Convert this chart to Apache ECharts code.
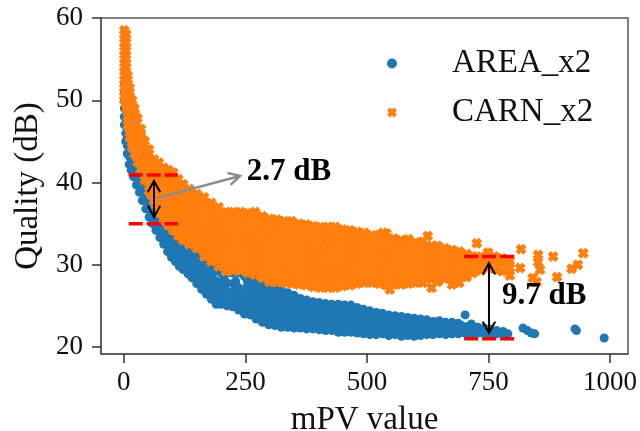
<!DOCTYPE html>
<html>
<head>
<meta charset="utf-8">
<script src="https://cdn.jsdelivr.net/npm/echarts@6/dist/echarts.min.js"></script>
<style>
  html, body { margin: 0; padding: 0; background: #fff; }
  #chart { width: 640px; height: 431px; }
</style>
</head>
<body>
<div id="chart"></div>
<script>
// values: each row is [mPV, quality values at that mPV...]
const areaColumns = [
  [1, 47, 48, 49, 50, 51, 52], [4, 45, 46, 47, 48], [7, 43.5, 44.5, 45.5, 47], [11, 42.2, 43.2, 44.2],
  [15, 41.5, 42.5, 43.5], [20, 40.7, 41.8, 43], [26, 39.7, 40.7, 41.8], [32, 38.8, 39.8, 40.8],
  [38, 37.8, 38.8, 39.8], [45, 36.8, 37.8, 38.8], [52, 35.8, 36.8, 37.8], [59, 35, 36, 37],
  [66, 34.2, 35.2, 36.2], [74, 33.3, 34.3, 35.3], [82, 32.5, 33.5, 34.5], [90, 31.6, 32.6, 33.6, 34.6],
  [98, 30.9, 31.9, 32.9, 33.9], [106, 30.4, 31.4, 32.4, 33.4], [114, 29.8, 30.8, 31.8, 32.8],
  [122, 29.4, 30.4, 31.4, 32.4], [132, 28.9, 29.8, 30.7, 31.6, 32.2], [140, 28.4, 29.3, 30.2, 31, 31.8],
  [150, 27.7, 28.6, 29.5, 30.4, 31.5], [160, 27, 27.9, 28.8, 29.9, 31], [170, 26.4, 27.3, 28.2, 29.2, 30.6],
  [180, 25.8, 26.7, 27.6, 28.6, 30], [190, 25.2, 26.1, 27, 28, 29.6], [200, 25.2, 26, 26.9, 27.9, 29],
  [212, 25, 25.9, 26.8, 27.8, 29], [224, 24.9, 25.8, 26.7, 27.7, 29], [236, 24.5, 25.4, 26.3, 27.2, 29],
  [248, 24, 25, 26, 27, 28.6], [260, 23.9, 24.8, 25.7, 26.6, 27.5, 28.4], [272, 23.4, 24.3, 25.2, 26.1, 27, 27.9],
  [285, 23, 23.9, 24.8, 25.7, 26.6, 27.6], [298, 22.7, 23.6, 24.5, 25.4, 26.3, 27.3],
  [311, 22.6, 23.5, 24.4, 25.3, 26.2, 27.1], [324, 22.4, 23.3, 24.2, 25.1, 26, 26.9],
  [337, 22.4, 23.3, 24.2, 25.1, 25.9, 26.6], [350, 22.3, 23.2, 24.1, 25, 26.3], [363, 22.3, 23.1, 24, 24.9, 25.9],
  [376, 22.2, 23, 23.9, 24.8, 25.7], [389, 22.2, 23, 23.8, 24.6, 25.5], [402, 22.1, 22.9, 23.7, 24.5, 25.4],
  [415, 22, 22.8, 23.6, 24.4, 25.3], [428, 22, 22.8, 23.6, 24.4, 25.2], [441, 21.8, 22.6, 23.4, 24.2, 25.2],
  [454, 21.8, 22.6, 23.4, 24.2, 25.1], [467, 21.8, 22.6, 23.4, 24.2, 25.1], [480, 21.7, 22.5, 23.3, 24.1, 24.8],
  [493, 21.6, 22.4, 23.2, 24, 24.6], [506, 21.5, 22.3, 23.1, 23.9, 24.4], [519, 21.5, 22.3, 23.1, 24.2],
  [532, 21.6, 22.4, 23.2, 24.1], [545, 21.4, 22.2, 23, 23.9], [558, 21.5, 22.3, 23.1, 23.8],
  [571, 21.3, 22.1, 22.9, 23.7], [584, 21.4, 22.2, 23, 23.6], [597, 21.3, 22.1, 22.9, 23.5],
  [610, 21.4, 22.2, 23, 23.4], [623, 21.5, 22.3, 23.3], [636, 21.5, 22.3, 23.1], [649, 21.6, 22.4, 23.2],
  [662, 21.5, 22.3, 23], [675, 21.6, 22.4, 23], [688, 21.6, 22.3, 22.9], [702, 21.7, 22.4, 23.9],
  [715, 21.6, 22.3, 22.8], [728, 21.7, 22.4], [741, 21.6, 22.3], [754, 21.6, 22.2], [767, 21.6, 22],
  [780, 21.6, 21.9], [790, 21.6], [821, 22.3], [830, 22], [838, 21.7], [845, 21.6], [928, 22.2], [931, 22], [988, 21.1]
]
// points lying between the rows above, inside the blue band
const areaInner = [
  [145, 29, 29.9, 30.8], [165, 27.5, 28.4, 29.4, 30.3], [185, 26.4, 27.3, 28.2, 29.1], [206, 25.6, 26.5, 27.4, 28.3],
  [230, 25.3, 26.2, 27.1, 28], [254, 24.7, 25.6, 26.5, 27.4, 28], [266, 24.3, 25.2, 26.1, 27, 27.9],
  [279, 23.8, 24.7, 25.6, 26.5, 27.4], [292, 23.4, 24.3, 25.2, 26.1, 27], [305, 23.1, 24, 24.9, 25.8, 26.7],
  [318, 23, 23.9, 24.8, 25.7, 26.6], [331, 22.9, 23.8, 24.7, 25.5, 26.4], [344, 22.8, 23.7, 24.6, 25.5, 26.2],
  [357, 22.7, 23.6, 24.5, 25.4], [370, 22.6, 23.5, 24.4, 25.3], [383, 22.6, 23.4, 24.2, 25], [396, 22.5, 23.3, 24.1, 24.9],
  [409, 22.4, 23.2, 24, 24.8], [422, 22.4, 23.2, 24, 24.8], [435, 22.2, 23, 23.8, 24.6], [448, 22.2, 23, 23.8, 24.6],
  [461, 22.2, 23, 23.8, 24.6], [474, 22.1, 22.9, 23.7, 24.5], [487, 22, 22.8, 23.6, 24.3], [500, 21.9, 22.7, 23.5, 24.2],
  [513, 21.9, 22.7, 23.5], [526, 22, 22.8, 23.6], [539, 21.8, 22.6, 23.4], [552, 21.9, 22.7, 23.4], [565, 21.7, 22.5, 23.3],
  [578, 21.8, 22.6, 23.3], [591, 21.7, 22.5, 23.2], [604, 21.8, 22.6, 23.2], [617, 21.9, 22.7], [630, 21.9, 22.7],
  [643, 22, 22.8], [656, 21.9, 22.6], [669, 22, 22.7], [682, 22, 22.6], [695, 22, 22.6], [708, 22, 22.5]
]
const carnColumns = [
  [1, 50, 51, 52, 53, 54, 55, 56, 57, 58, 58.5], [5, 49, 50, 51, 52, 53, 54, 55, 56, 57, 58],
  [8, 47, 48, 49, 50, 51, 52, 53], [12, 45.5, 46.5, 47.5, 48.5, 49.5, 50.5, 51.5], [17, 44.3, 45.3, 46.3, 47.3, 48.3, 49.2, 50],
  [22, 43.5, 44.5, 45.5, 46.5, 47.5, 48.3, 49], [28, 42.5, 43.5, 44.5, 45.5, 46.5, 47.8], [35, 41.7, 42.7, 43.7, 44.7, 45.7, 46.5],
  [43, 40.3, 41.3, 42.3, 43.3, 44.2, 45], [52, 39, 40, 41, 42, 43, 44], [62, 37.8, 38.8, 39.8, 40.8, 41.8, 42.8],
  [72, 36.5, 37.5, 38.5, 39.5, 40.5, 41.5, 42.4], [82, 35.6, 36.6, 37.6, 38.6, 39.6, 40.7, 41.8],
  [92, 34.8, 35.8, 36.8, 37.8, 38.8, 39.8, 40.7, 41.5], [102, 34.2, 35.2, 36.2, 37.2, 38.2, 39.2, 40.2, 41.2],
  [112, 33.5, 34.5, 35.5, 36.5, 37.5, 38.5, 39.5, 40.4], [122, 33, 34, 35, 36, 37, 38, 39, 39.8],
  [135, 32.5, 33.5, 34.5, 35.5, 36.5, 37.5, 38.4, 39.2], [150, 32, 33, 34, 35, 36, 37, 37.9, 38.6],
  [165, 31, 32, 33, 34, 35, 36, 37.1, 38.2], [180, 30.4, 31.4, 32.4, 33.4, 34.4, 35.4, 36.5, 37.5],
  [195, 29.8, 30.8, 31.8, 32.8, 33.8, 34.8, 35.9, 37], [210, 29.2, 30.2, 31.2, 32.2, 33.2, 34.2, 35.3, 36.4],
  [225, 29.3, 30.3, 31.3, 32.3, 33.3, 34.3, 35.4, 36.4], [240, 29.3, 30.3, 31.3, 32.3, 33.3, 34.3, 35.4, 36.4],
  [255, 29, 30, 31, 32, 33, 34, 35.2, 36.3], [270, 28.8, 29.8, 30.8, 31.8, 32.8, 33.8, 35.1, 36.4],
  [285, 28.4, 29.4, 30.4, 31.4, 32.4, 33.4, 34.7, 35.9], [300, 27.9, 28.9, 29.9, 30.9, 31.9, 32.9, 34.2, 35.6],
  [315, 27.9, 28.9, 29.9, 30.9, 31.9, 32.9, 34.2, 35.5], [330, 27.8, 28.8, 29.8, 30.8, 31.8, 32.8, 34, 35.3],
  [345, 27.7, 28.7, 29.7, 30.7, 31.7, 32.7, 34, 35.3], [360, 27.6, 28.6, 29.6, 30.6, 31.6, 32.6, 33.8, 35],
  [375, 27.5, 28.5, 29.5, 30.5, 31.5, 32.5, 33.7, 34.9], [390, 27.3, 28.3, 29.3, 30.3, 31.3, 32.3, 33.5, 34.7],
  [405, 27.2, 28.2, 29.2, 30.2, 31.2, 32.2, 33.4, 34.6], [420, 27.2, 28.2, 29.2, 30.2, 31.2, 32.2, 33.4, 34.6],
  [435, 27.2, 28.2, 29.2, 30.2, 31.2, 32.2, 33.4, 34.6], [450, 27.4, 28.4, 29.4, 30.4, 31.4, 32.4, 33.4, 34.3],
  [465, 27.5, 28.5, 29.5, 30.5, 31.5, 32.5, 33.4, 34.2], [480, 27.7, 28.7, 29.7, 30.7, 31.7, 32.7, 34],
  [495, 27.8, 28.8, 29.8, 30.8, 31.8, 32.8, 33.9], [510, 27.8, 28.8, 29.8, 30.8, 31.8, 32.7, 33.6],
  [525, 27.7, 28.7, 29.7, 30.7, 31.7, 32.7, 33.6], [533, 33.9], [540, 27.5, 28.5, 29.5, 30.5, 31.5, 32.6, 33.8],
  [547, 27], [555, 27.6, 28.6, 29.6, 30.6, 31.6, 32.4, 33.2], [570, 27.6, 28.6, 29.6, 30.6, 31.6, 32.4, 33],
  [585, 27.7, 28.7, 29.7, 30.7, 31.7, 32.4, 33.1], [600, 27.8, 28.8, 29.8, 30.8, 31.8, 32.7],
  [615, 27.8, 28.8, 29.8, 30.8, 31.8, 32.8], [625, 33.5], [633, 27.2, 28.3, 29.3, 30.3, 31.3, 32.3],
  [645, 27.9, 28.9, 29.9, 30.9, 31.6, 32.3], [660, 28.3, 29.2, 30.2, 31.1, 32], [675, 27.6, 29, 30, 30.9, 31.8],
  [690, 27.8, 29.4, 30.4, 31.6], [705, 28.5, 29.5, 30.5, 31.3], [718, 29, 30, 31], [726, 32.6],
  [735, 29.3, 30.2, 31], [749, 29.7, 30.5, 31.5], [762, 29.5, 30.4, 31], [778, 29.2, 30.2, 30.8],
  [794, 28.7, 29.6, 30.5], [815, 29.6], [817, 31.9], [841, 28.4], [849, 27.9], [852, 30.3, 31.2], [856, 29.4],
  [883, 31], [891, 28.5], [921, 29.5], [934, 30], [945, 31.4]
]
// points lying between the rows above, inside the orange band
const carnInner = [
  [3, 50.5, 52.5, 54.5, 56.5], [10, 47.5, 49, 50.5], [15, 46, 47.5, 49], [25, 44, 45.5, 47], [32, 42.7, 44, 45.3, 46.4],
  [39, 42.2, 43.2, 44.2, 45.2], [47, 40.8, 41.8, 42.8, 43.8], [57, 38.5, 39.5, 40.5, 41.5, 42.5],
  [67, 37.3, 38.3, 39.3, 40.3, 41.3, 42.2], [77, 36.2, 37.2, 38.2, 39.2, 40.2, 41.2], [87, 35.3, 36.3, 37.3, 38.3, 39.3, 40.3, 41.2],
  [97, 34.7, 35.7, 36.7, 37.7, 38.7, 39.7, 40.7], [107, 34.1, 35.1, 36.1, 37.1, 38.1, 39.1, 40.1], [117, 33.6, 34.6, 35.6, 36.6, 37.6, 38.6, 39.6],
  [128, 33, 34, 35, 36, 37, 38, 39], [142, 32.7, 33.7, 34.7, 35.7, 36.7, 37.7, 38.6], [157, 32, 33, 34, 35, 36, 37, 38],
  [172, 31.2, 32.2, 33.2, 34.2, 35.2, 36.2, 37.2], [187, 30.6, 31.6, 32.6, 33.6, 34.6, 35.6, 36.6], [202, 30, 31, 32, 33, 34, 35, 36],
  [217, 29.8, 30.8, 31.8, 32.8, 33.8, 34.8, 35.8], [232, 29.8, 30.8, 31.8, 32.8, 33.8, 34.8, 35.8], [247, 29.7, 30.7, 31.7, 32.7, 33.7, 34.7, 35.8],
  [262, 29.4, 30.4, 31.4, 32.4, 33.4, 34.5, 35.7], [277, 29.2, 30.2, 31.2, 32.2, 33.2, 34.4, 35.6], [292, 28.9, 29.9, 30.9, 31.9, 32.9, 34, 35.2],
  [307, 28.4, 29.4, 30.4, 31.4, 32.4, 33.5, 34.8], [322, 28.3, 29.3, 30.3, 31.3, 32.3, 33.4, 34.8], [337, 28.2, 29.2, 30.2, 31.2, 32.2, 33.4, 34.6],
  [352, 28.1, 29.1, 30.1, 31.1, 32.1, 33.3, 34.6], [367, 28, 29, 30, 31, 32, 33.2, 34.4], [382, 27.9, 28.9, 29.9, 30.9, 31.9, 33.1, 34.3],
  [397, 27.7, 28.7, 29.7, 30.7, 31.7, 32.8, 34], [412, 27.7, 28.7, 29.7, 30.7, 31.7, 32.8, 34], [427, 27.7, 28.7, 29.7, 30.7, 31.7, 32.8, 34],
  [442, 27.8, 28.8, 29.8, 30.8, 31.8, 32.8, 33.9], [457, 27.9, 28.9, 29.9, 30.9, 31.9, 32.9, 33.8], [472, 28.1, 29.1, 30.1, 31.1, 32.1, 33.2],
  [487, 28.2, 29.2, 30.2, 31.2, 32.2, 33.3], [502, 28.3, 29.3, 30.3, 31.3, 32.3, 33.3], [517, 28.2, 29.2, 30.2, 31.2, 32.2, 33.1],
  [532, 28.1, 29.1, 30.1, 31.1, 32.1, 33.1], [547, 28.1, 29.1, 30.1, 31.1, 32.1, 33], [562, 28.1, 29.1, 30.1, 31.1, 32, 32.8],
  [577, 28.2, 29.2, 30.2, 31.2, 32, 32.7], [592, 28.2, 29.2, 30.2, 31.2, 32.2], [607, 28.3, 29.3, 30.3, 31.3, 32.2], [622, 28.3, 29.3, 30.3, 31.3, 32.3],
  [639, 28.4, 29.4, 30.4, 31.2, 31.9], [652, 28.6, 29.6, 30.6, 31.5], [667, 28.7, 29.7, 30.6, 31.5], [682, 28.5, 29.5, 30.4, 31.2],
  [697, 28.9, 29.9, 30.9], [711, 29.2, 30.2, 31], [726, 29.5, 30.5], [742, 29.8, 30.6]
]
const seriesNames = ['AREA_x2', 'CARN_x2']
const xTicks = [0, 250, 500, 750, 1000]
const yTicks = [20, 30, 40, 50, 60]
// [x from, x to, y]
const redDashes = [[10, 111, 40.9], [10, 111, 35], [700, 805, 31], [700, 805, 21]]
// [x, y top, y bottom]
const doubleArrows = [[62, 40.2, 35.8], [751, 30.2, 21.7]]
// [x from, y from, x to, y to]
const grayArrows = [[68, 38.1, 239, 40.8]]
// [x, y, text]
const gapLabels = [[253, 41.3, '2.7 dB'], [778, 26.2, '9.7 dB']]

const serif = '"Liberation Serif", "Times New Roman", serif'
const crossPath = 'path://M3 0L5 2L7 0L10 3L8 5L10 7L7 10L5 8L3 10L0 7L2 5L0 3Z'

function toPoints(columns) {
  let points = []
  columns.forEach(col => col.slice(1).forEach(y => points.push([col[0], y])))
  return points
}

// open arrow head whose tip is at (x, y), pointing away from (fromX, fromY)
function headShape(x, y, fromX, fromY, size) {
  let a = Math.atan2(y - fromY, x - fromX)
  return [
    [x - size * Math.cos(a - 0.5), y - size * Math.sin(a - 0.5)],
    [x, y],
    [x - size * Math.cos(a + 0.5), y - size * Math.sin(a + 0.5)]
  ]
}

function arrowItem(p1, p2, color, width, both) {
  let style = { stroke: color, lineWidth: width, fill: null }
  let children = [
    { type: 'line', shape: { x1: p1[0], y1: p1[1], x2: p2[0], y2: p2[1] }, style: style },
    { type: 'polyline', shape: { points: headShape(p2[0], p2[1], p1[0], p1[1], 13) }, style: style }
  ]
  if (both) children.push({ type: 'polyline', shape: { points: headShape(p1[0], p1[1], p2[0], p2[1], 13) }, style: style })
  return { type: 'group', children: children }
}

const myChart = echarts.init(document.getElementById('chart'), null, { renderer: 'canvas' })
myChart.setOption({
  animation: false,
  textStyle: { fontFamily: serif },
  grid: { left: 101, right: 12, top: 18, bottom: 77, show: true, borderColor: '#555', borderWidth: 1.5, outerBoundsMode: 'none' },
  legend: {
    left: 382, top: 42, orient: 'vertical', itemWidth: 10, itemHeight: 10, itemGap: 16,
    data: [
      { name: seriesNames[0], icon: 'circle' },
      { name: seriesNames[1], icon: crossPath }
    ],
    textStyle: { fontFamily: serif, fontSize: 33, color: '#111', padding: [0, 0, 0, 50] }
  },
  xAxis: {
    type: 'value', min: -47, max: 1037,
    name: 'mPV value', nameLocation: 'middle', nameGap: 50,
    nameTextStyle: { fontFamily: serif, fontSize: 33, color: '#111' },
    splitLine: { show: false },
    axisLine: { onZero: false, lineStyle: { color: '#555', width: 1.5 } },
    axisTick: { length: 9, customValues: xTicks, lineStyle: { color: '#333', width: 1.5 } },
    axisLabel: { customValues: xTicks, formatter: v => String(v), fontFamily: serif, fontSize: 27, color: '#111', margin: 15 }
  },
  yAxis: {
    type: 'value', min: 19.15, max: 60,
    name: 'Quality (dB)', nameLocation: 'middle', nameGap: 52,
    nameTextStyle: { fontFamily: serif, fontSize: 33, color: '#111' },
    splitLine: { show: false },
    axisLine: { onZero: false, lineStyle: { color: '#555', width: 1.5 } },
    axisTick: { length: 9, customValues: yTicks, lineStyle: { color: '#333', width: 1.5 } },
    axisLabel: { customValues: yTicks, formatter: v => String(v), fontFamily: serif, fontSize: 27, color: '#111', margin: 18 }
  },
  series: [
    {
      name: seriesNames[0], type: 'scatter', symbol: 'circle', symbolSize: 9,
      itemStyle: { color: '#1f77b4', opacity: 1 }, data: toPoints(areaColumns).concat(toPoints(areaInner)), z: 2
    },
    {
      name: seriesNames[1], type: 'scatter', symbol: crossPath, symbolSize: 11,
      itemStyle: { color: '#ff7f0e', opacity: 1 }, data: toPoints(carnColumns).concat(toPoints(carnInner)), z: 3
    },
    {
      type: 'custom', z: 4, clip: false, data: redDashes,
      encode: { x: [0, 1], y: 2 },
      renderItem: (params, api) => {
        let a = api.coord([api.value(0), api.value(2)])
        let b = api.coord([api.value(1), api.value(2)])
        return {
          type: 'line', shape: { x1: a[0], y1: a[1], x2: b[0], y2: b[1] },
          style: { stroke: '#f00', lineWidth: 3.5, lineDash: [14, 4] }
        }
      }
    },
    {
      type: 'custom', z: 5, clip: false, data: doubleArrows,
      encode: { x: 0, y: [1, 2] },
      renderItem: (params, api) => arrowItem(
        api.coord([api.value(0), api.value(1)]), api.coord([api.value(0), api.value(2)]), '#000', 2, true)
    },
    {
      type: 'custom', z: 5, clip: false, data: grayArrows,
      encode: { x: [0, 2], y: [1, 3] },
      renderItem: (params, api) => arrowItem(
        api.coord([api.value(0), api.value(1)]), api.coord([api.value(2), api.value(3)]), '#8c8c8c', 2.5, false)
    },
    {
      type: 'custom', z: 6, clip: false, data: gapLabels,
      encode: { x: 0, y: 1 },
      renderItem: (params, api) => {
        let p = api.coord([api.value(0), api.value(1)])
        return {
          type: 'text', x: p[0], y: p[1],
          style: {
            text: gapLabels[params.dataIndex][2], fill: '#000', align: 'left', verticalAlign: 'middle',
            font: 'bold 31px ' + serif
          }
        }
      }
    }
  ]
})
</script>
</body>
</html>
